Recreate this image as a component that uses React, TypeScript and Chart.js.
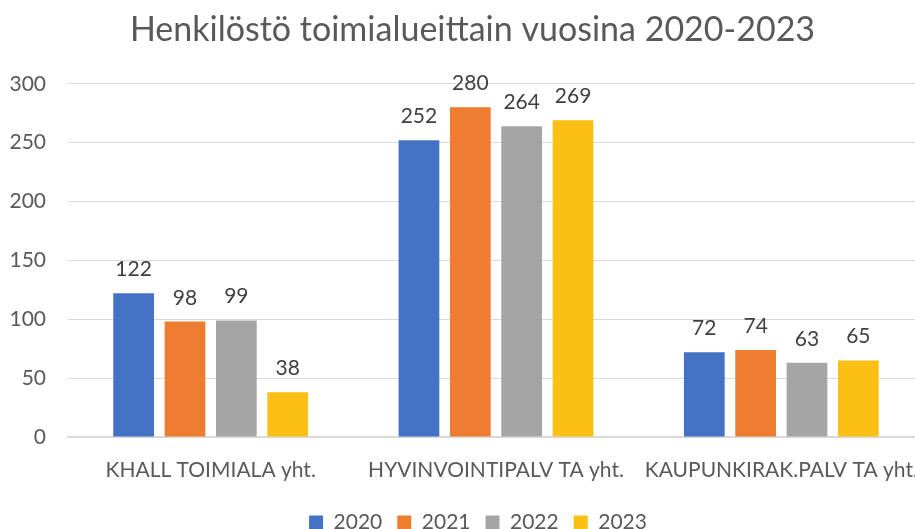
import React, { useEffect, useRef } from "react";
import { Chart, registerables } from "chart.js";

Chart.register(...registerables);

const categories = ["KHALL TOIMIALA yht.", "HYVINVOINTIPALV TA yht.", "KAUPUNKIRAK.PALV TA yht."];
const seriesNames = ["2020", "2021", "2022", "2023"];
const values2020 = [122, 252, 72];
const values2021 = [98, 280, 74];
const values2022 = [99, 264, 63];
const values2023 = [38, 269, 65];
const colors = ["#4472C4", "#ED7D31", "#A5A5A5", "#FBBF15"];
const titleText = "Henkilöstö toimialueittain vuosina 2020-2023";
const FONT = "Lato, 'Open Sans', sans-serif";

const dataLabels = {
  id: "dataLabels",
  afterDatasetsDraw(chart: any) {
    const ctx = chart.ctx;
    ctx.save();
    ctx.font = `21px ${FONT}`;
    ctx.fillStyle = "#404040";
    ctx.textAlign = "center";
    ctx.textBaseline = "alphabetic";
    chart.data.datasets.forEach((ds: any, i: number) => {
      const meta = chart.getDatasetMeta(i);
      meta.data.forEach((bar: any, j: number) => {
        ctx.fillText(String(ds.data[j]), bar.x, bar.y - 17);
      });
    });
    ctx.restore();
  },
};

// Excel centres title and legend over a slightly wider chart than the visible crop
const shiftBlocks = {
  id: "shiftBlocks",
  afterLayout(chart: any) {
    if (chart.titleBlock) chart.titleBlock.left += 13;
    if (chart.legend) chart.legend.left += 24;
  },
};

export default function App() {
  const ref = useRef<HTMLCanvasElement>(null);
  useEffect(() => {
    document.body.style.margin = "0";
    const allSeries = [values2020, values2021, values2022, values2023];
    const chart = new Chart(ref.current!, {
      type: "bar",
      data: {
        labels: categories,
        datasets: allSeries.map((d, i) => ({
          label: seriesNames[i],
          data: d,
          backgroundColor: colors[i],
          categoryPercentage: 0.72,
          barPercentage: 0.793,
        })),
      },
      options: {
        animation: false,
        responsive: false,
        maintainAspectRatio: false,
        layout: { padding: { left: 8, right: 21, top: 0, bottom: 0 } },
        plugins: {
          title: {
            display: true,
            text: titleText,
            color: "#595959",
            font: { family: FONT, size: 34, weight: "normal" },
            padding: { top: 10, bottom: 33 },
          },
          legend: {
            position: "bottom",
            labels: {
              color: "#595959",
              font: { family: FONT, size: 21 },
              boxWidth: 14,
              boxHeight: 14,
              padding: 15,
            },
          },
          tooltip: { enabled: false },
        },
        scales: {
          x: {
            grid: { display: false, drawTicks: false },
            border: { color: "#d9d9d9", width: 1.5 },
            ticks: { color: "#595959", font: { family: FONT, size: 21 }, padding: 21, maxRotation: 0, autoSkip: false },
            afterFit: (s: any) => {
              s.paddingLeft = 0;
              s.paddingRight = 0;
              s.height = 60;
            },
          },
          y: {
            min: 0,
            max: 300,
            ticks: { stepSize: 50, color: "#595959", font: { family: FONT, size: 21 }, padding: 22 },
            grid: { color: "#d9d9d9", drawTicks: false },
            border: { display: false },
            afterFit: (s: any) => {
              s.width = 60;
            },
          },
        },
      },
      plugins: [dataLabels, shiftBlocks],
    });
    return () => chart.destroy();
  }, []);
  return (
    <div style={{ width: 915, height: 529, overflow: "hidden", position: "relative", background: "#fff" }}>
      <canvas ref={ref} width={945} height={543} style={{ position: "absolute", left: 0, top: 0 }} />
    </div>
  );
}
